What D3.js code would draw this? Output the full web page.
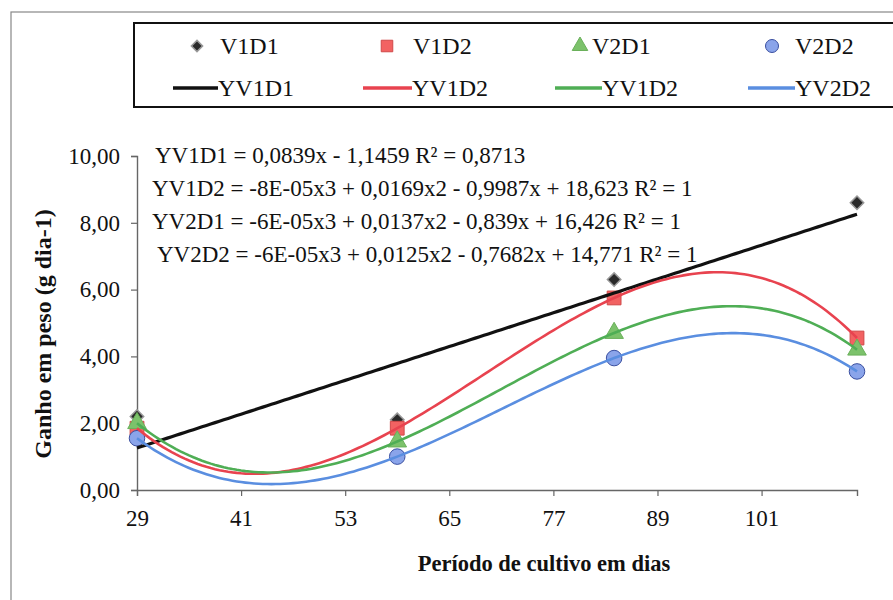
<!DOCTYPE html>
<html><head><meta charset="utf-8">
<script src="https://cdn.jsdelivr.net/npm/d3@7"></script>
<style>body{margin:0;background:#fff}svg{display:block}svg text{font-family:"Liberation Serif","DejaVu Serif",serif}</style>
</head><body>
<svg id="c" width="893" height="600"></svg>
<script>
// ---- data ----
const days = [29, 59, 84, 112];
const V1D1 = [2.2, 2.1, 6.3, 8.6];
const V1D2 = [1.85, 1.85, 5.75, 4.55];
const V2D1 = [2.0, 1.45, 4.7, 4.2];
const V2D2 = [1.55, 1.0, 3.95, 3.55];
const xTicks = [29, 41, 53, 65, 77, 89, 101];
const yTicks = [0, 2, 4, 6, 8, 10];
const seriesNames = ["V1D1", "V1D2", "V2D1", "V2D2"];
const trendNames = ["YV1D1", "YV1D2", "YV1D2", "YV2D2"];
const trendDegrees = [1, 3, 3, 3];
const equations = [
  "YV1D1 = 0,0839x - 1,1459  R² = 0,8713",
  "YV1D2 = -8E-05x3 + 0,0169x2 - 0,9987x + 18,623 R² = 1",
  "YV2D1 = -6E-05x3 + 0,0137x2 - 0,839x + 16,426 R² = 1",
  "YV2D2 = -6E-05x3 + 0,0125x2 - 0,7682x + 14,771  R² = 1"
];
const xTitle = "Período de cultivo em dias";
const yTitle = "Ganho em peso (g dia-1)";

const fills = ["#2a2a2a", "#f26262", "#7cc26b", "#8aa4ea"];
const strokes = ["#999999", "#d04848", "#6ab05a", "#3a4fa0"];
const lineColors = ["#111111", "#e8434f", "#4fae55", "#5a8ee0"];
const allSeries = [V1D1, V1D2, V2D1, V2D2];

// least squares polynomial fit (trendline)
function polyfit(xs, ys, deg) {
  const n = deg + 1;
  const A = Array.from({length: n}, () => new Array(n + 1).fill(0));
  for (let r = 0; r < n; r++) {
    for (let c = 0; c < n; c++) A[r][c] = d3.sum(xs, x => Math.pow(x, r + c));
    A[r][n] = d3.sum(xs.map((x, i) => ys[i] * Math.pow(x, r)));
  }
  for (let i = 0; i < n; i++) {
    let p = i;
    for (let k = i + 1; k < n; k++) if (Math.abs(A[k][i]) > Math.abs(A[p][i])) p = k;
    [A[i], A[p]] = [A[p], A[i]];
    for (let k = 0; k < n; k++) {
      if (k === i) continue;
      const f = A[k][i] / A[i][i];
      for (let j = i; j <= n; j++) A[k][j] -= f * A[i][j];
    }
  }
  return A.map((row, i) => row[n] / row[i]);
}

const svg = d3.select("#c");

// outer chart border
svg.append("rect").attr("x", 11).attr("y", 12).attr("width", 920).attr("height", 620)
  .attr("fill", "none").attr("stroke", "#888").attr("stroke-width", 1.2);

const x = d3.scaleLinear().domain([29, 112]).range([137, 857]);
const y = d3.scaleLinear().domain([0, 10]).range([490, 156]);

// axes
const xAxis = svg.append("g").attr("transform", "translate(0,490)")
  .call(d3.axisBottom(x).tickValues(xTicks).tickSize(6).tickPadding(14).tickFormat(d3.format("d")));
const yAxis = svg.append("g").attr("transform", "translate(137,0)")
  .call(d3.axisLeft(y).tickValues(yTicks).tickSize(6).tickPadding(11)
    .tickFormat(d => d3.format(".2f")(d).replace(".", ",")));
[xAxis, yAxis].forEach(g => {
  g.attr("font-family", null);
  g.select(".domain").attr("stroke", "#666").attr("stroke-width", 1.4);
  g.selectAll(".tick line").attr("stroke", "#666").attr("stroke-width", 1.2);
  g.selectAll(".tick text").attr("font-size", 23).attr("fill", "#111");
});
xAxis.selectAll(".tick text").attr("dy", "0.71em");

// titles
svg.append("text").attr("x", 544).attr("y", 563).attr("text-anchor", "middle")
  .attr("dominant-baseline", "central").attr("font-weight", "bold")
  .attr("font-size", 22.5).attr("fill", "#111").text(xTitle);
svg.append("text").attr("transform", "translate(43,334) rotate(-90)").attr("text-anchor", "middle")
  .attr("dominant-baseline", "central").attr("font-weight", "bold")
  .attr("font-size", 24).attr("fill", "#111").text(yTitle);

// markers
const sym = [d3.symbolSquare, d3.symbolSquare, d3.symbolTriangle, d3.symbolCircle];
const symSize = [90, 190, 150, 190];
function drawMarker(g, i, cx, cy, scale) {
  g.append("path").attr("d", d3.symbol().type(sym[i]).size(symSize[i] * (scale || 1))())
    .attr("transform", `translate(${cx},${cy})` + (i === 0 ? " rotate(45)" : ""))
    .attr("fill", fills[i]).attr("stroke", strokes[i]).attr("stroke-width", i === 0 ? 1.5 : 1);
}
const mg = svg.append("g");
allSeries.forEach((s, i) => {
  s.forEach((v, j) => drawMarker(mg, i, x(days[j]), y(v)));
});

// trendlines
const xs = d3.range(29, 112.01, 0.5);
const line = d3.line().x(d => x(d[0])).y(d => y(d[1]));
allSeries.forEach((s, i) => {
  const c = polyfit(days, s, trendDegrees[i]);
  const pts = xs.map(xv => [xv, c.reduce((a, ci, k) => a + ci * Math.pow(xv, k), 0)]);
  svg.append("path").attr("d", line(pts)).attr("fill", "none")
    .attr("stroke", lineColors[i]).attr("stroke-width", i === 0 ? 3.2 : 2.6);
});

// equations
const eqX = [155, 152, 152, 157];
equations.forEach((t, i) => {
  svg.append("text").attr("x", eqX[i]).attr("y", 155 + i * 33.3).attr("dominant-baseline", "central")
    .attr("font-size", 23).attr("fill", "#111").text(t);
});

// legend
svg.append("rect").attr("x", 134).attr("y", 23).attr("width", 800).attr("height", 84)
  .attr("fill", "#fff").attr("stroke", "#111").attr("stroke-width", 2);
const legMarkX = [197, 387, 580, 772];
const legTextX = [220, 413, 592, 795];
const legLineX = [[173, 218], [363, 412], [555, 602], [748, 795]];
const lg = svg.append("g");
seriesNames.forEach((n, i) => {
  drawMarker(lg, i, legMarkX[i], 46, 0.7);
  lg.append("text").attr("x", legTextX[i]).attr("y", 46).attr("dominant-baseline", "central")
    .attr("font-size", 24).attr("fill", "#111").text(n);
  lg.append("line").attr("x1", legLineX[i][0]).attr("x2", legLineX[i][1]).attr("y1", 88).attr("y2", 88)
    .attr("stroke", lineColors[i]).attr("stroke-width", 3.5);
  lg.append("text").attr("x", legLineX[i][1]).attr("y", 88).attr("dominant-baseline", "central")
    .attr("font-size", 24).attr("fill", "#111").text(trendNames[i]);
});
</script>
</body></html>
